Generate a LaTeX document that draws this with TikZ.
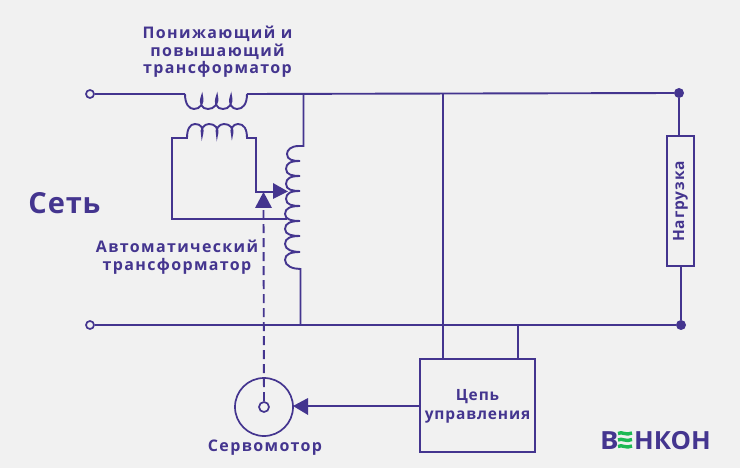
\documentclass[tikz,border=0pt]{standalone}
\usepackage{fontspec}
\setmainfont{Open Sans}
\definecolor{ink}{HTML}{44358F}
\definecolor{paper}{HTML}{F1F1F1}
\definecolor{leaf}{HTML}{1DB954}
\usetikzlibrary{calc}
\begin{document}
\begin{tikzpicture}[x=1bp,y=-1bp,
  wire/.style={draw=ink,line width=1.9bp},
  tip/.style={fill=ink,draw=none},
  lab/.style={text=ink,font=\bfseries\fontsize{16bp}{17.5bp}\selectfont\addfontfeatures{LetterSpace=8.5},align=center,inner sep=0pt},
  blab/.style={lab,font=\bfseries\fontsize{15.5bp}{19bp}\selectfont\addfontfeatures{LetterSpace=5.5}},
  term/.style={circle,draw=ink,line width=1.7bp,fill=paper,minimum size=8bp,inner sep=0pt},
  dot/.style={circle,fill=ink,minimum size=10bp,inner sep=0pt},
  blockbox/.style={rectangle,draw=ink,line width=2bp,inner sep=0pt}]
\path[use as bounding box,fill=paper] (0,0) rectangle (740,468);

% terminals and dots
\node[term] (t1) at (90,94) {};
\node[term] (t2) at (90,325) {};
\node[dot] (d1) at (679,93) {};
\node[dot] (d2) at (681,325) {};

% blocks
\node[blockbox,minimum width=27bp,minimum height=130bp] (load) at (680.5,201) {};
\node[blab,rotate=90] at (680.5,201.5) {Нагрузка};
\node[blockbox,minimum width=115bp,minimum height=93bp,align=center] (ctl) at (477.5,405.5) {};
\node[blab] at (477.5,406) {Цепь\\управления};
\node[circle,draw=ink,line width=1.7bp,minimum size=58bp,inner sep=0pt] (motor) at (264,407) {};

% junction coordinates
\coordinate (p1) at (185,94);
\coordinate (p2) at (247,94);
\coordinate (j1) at (303.5,94);
\coordinate (j2) at (443,94);
\coordinate (j4) at (518,325);
\coordinate (j5) at (300.5,325);

% main rails
\draw[wire] (t1) -- (p1);
\draw[wire] (p2) -- (d1);
\draw[wire] (t2) -- (d2);
\draw[wire] (d1) -- (679,136);
\draw[wire] (681,266) -- (d2);
\draw[wire] (j2) -- (443,359);
\draw[wire] (j4) -- (518,359);

% series winding
\draw[wire] (p1)
  .. controls (185,104) and (189,109) .. (194,109)
  .. controls (200,109) and (204,104) .. (202,96)
  .. controls (199,104) and (202,109) .. (208,109)
  .. controls (214,109) and (219,104) .. (217,96)
  .. controls (214,104) and (217,109) .. (223,109)
  .. controls (229,109) and (233,104) .. (231,96)
  .. controls (228,104) and (232,109) .. (237,109)
  .. controls (243,109) and (247,104) .. (p2);

% excitation winding
\draw[wire] (287,219) -- (172,219) -- (172,138) -- (187,138)
  .. controls (187,129) and (190,124) .. (195,124)
  .. controls (201,124) and (204,128) .. (202,135)
  .. controls (200,129) and (204,124) .. (209,124)
  .. controls (215,124) and (219,128) .. (217,135)
  .. controls (215,129) and (219,124) .. (224,124)
  .. controls (230,124) and (234,128) .. (232,135)
  .. controls (230,129) and (233,124) .. (238,124)
  .. controls (244,124) and (247,129) .. (247,138)
  -- (256,138) -- (256,192) -- (275,192);

% autotransformer winding
\draw[wire] (j1) -- (303.5,146) -- (299,146)
  .. controls (291,146) and (287,150) .. (287,154)
  .. controls (287,160) and (293,161) .. (300,161)
  .. controls (291,161) and (286,163) .. (286,169)
  .. controls (286,175) and (293,176) .. (300,176)
  .. controls (291,176) and (286,178) .. (286,184)
  .. controls (286,190) and (293,191) .. (300,191)
  .. controls (291,191) and (286,193) .. (286,199)
  .. controls (286,205) and (293,206) .. (300,206)
  .. controls (291,206) and (285,208) .. (285,214)
  .. controls (285,220) and (293,221) .. (300,221)
  .. controls (291,221) and (285,223) .. (285,229)
  .. controls (285,235) and (293,236) .. (300,236)
  .. controls (291,236) and (285,238) .. (285,244)
  .. controls (285,250) and (293,252) .. (300,252)
  .. controls (291,252) and (285,254) .. (285,260)
  .. controls (285,266) and (293,269) .. (300.5,269)
  -- (j5);

% arrows
\fill[tip] (273,183) -- (288,191.5) -- (273,199) -- cycle;
\fill[tip] (263.5,192) -- (255,208) -- (272,208) -- cycle;
\node[circle,draw=ink,line width=1.7bp,minimum size=10bp,inner sep=0pt] (shaft) at (264,407) {};
\draw[wire,dash pattern=on 9bp off 5bp] (shaft) -- (263.5,208);
\draw[wire] (ctl.west |- 0,406) -- (307,406);
\fill[tip] (293,406) -- (308,398) -- (308,415) -- cycle;

% labels
\node[lab] at (217.5,52) {Понижающий и\\повышающий\\трансформатор};
\node[lab] at (177,257) {Автоматический\\трансформатор};
\node[lab] at (265,448) {Сервомотор};
\node[text=ink,font=\bfseries\fontsize{29bp}{30bp}\selectfont\addfontfeatures{LetterSpace=3},inner sep=0pt] at (64.5,203) {Сеть};

% logo
\node[text=ink,font=\bfseries\fontsize{25bp}{26bp}\selectfont,inner sep=0pt,anchor=base west,xscale=1.1] at (600,449) {В};
\node[text=ink,font=\bfseries\fontsize{25bp}{26bp}\selectfont,inner sep=0pt,anchor=base east,xscale=1.03] at (711,449) {НКОН};
\foreach \yy in {433.5,440,446.5}{
  \draw[leaf,line width=3.4bp] (618,\yy) .. controls (622,\yy-2.5) and (626,\yy+2.5) .. (632,\yy-0.5);
}
\end{tikzpicture}
\end{document}
